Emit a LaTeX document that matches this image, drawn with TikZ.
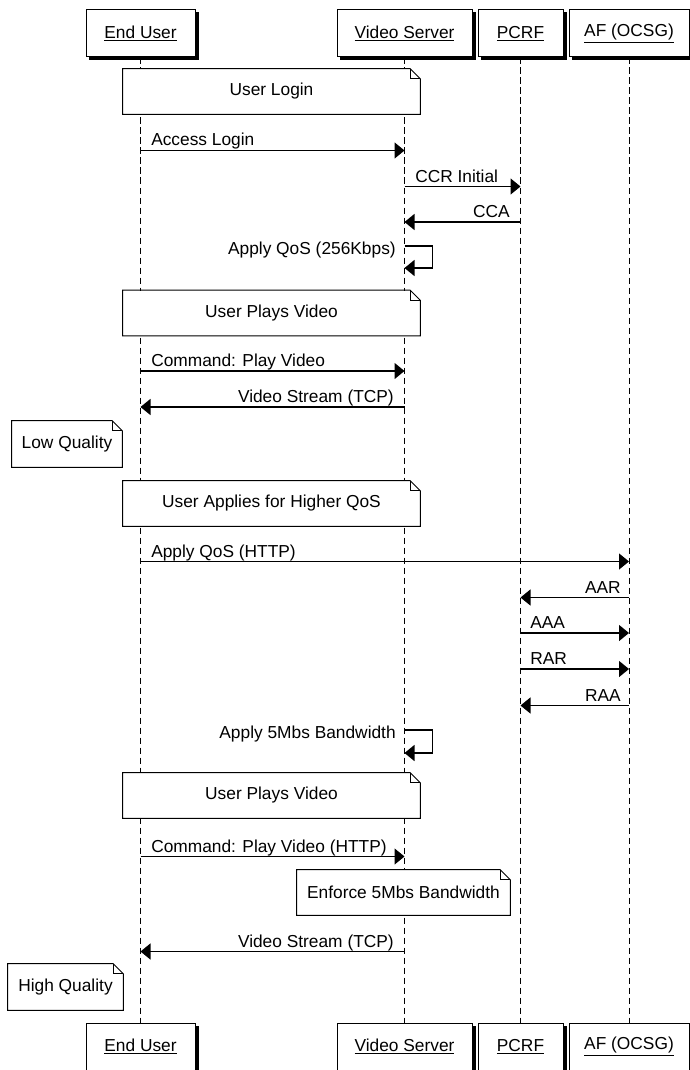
\documentclass[tikz,border=0pt]{standalone}
\usepackage{fontspec}
\setmainfont{Liberation Sans}
\usetikzlibrary{arrows.meta,calc}

% black shadow on the right and lower side of a participant box
\newcommand{\boxshadow}[1]{%
  \fill ($(#1.south west)+(3,0)$) rectangle ($(#1.south east)+(3,3)$);
  \fill ($(#1.north east)+(0,3)$) rectangle ($(#1.south east)+(3,3)$);
}
% outline of a note with a folded corner
\newcommand{\notefold}[1]{%
  \draw[line width=0.75pt] (#1.north west) -- ($(#1.north east)+(-10,0)$) -- ($(#1.north east)+(0,10)$)
    -- (#1.south east) -- (#1.south west) -- cycle;
  \draw[line width=0.75pt] ($(#1.north east)+(-10,0)$) -- ($(#1.north east)+(-10,10)$) -- ($(#1.north east)+(0,10)$);
}

\begin{document}
\begin{tikzpicture}[x=0.75pt,y=0.75pt,yscale=-1,xscale=1,
    every node/.style={font=\fontsize{13}{15}\selectfont},
    hdr/.style={draw, fill=white, line width=0.75pt, inner sep=0pt, minimum height=35.25pt},
    notebox/.style={fill=white, inner sep=0pt},
    msg/.style={line width=1pt, -{Triangle[length=7.5pt,width=12pt]}},
    lifeline/.style={line width=0.75pt, dash pattern=on 5pt off 2.5pt},
    lbl/.style={inner sep=0pt}]
  \useasboundingbox (0,0) rectangle (689,1070);

  % Participants (top)
  \node[hdr, minimum width=81.75pt] (eu) at (140.5,33.5) {\underline{End User}};
  \node[hdr, minimum width=101.25pt] (vs) at (404.5,33.5) {\underline{Video Server}};
  \node[hdr, minimum width=63.75pt] (pcrf) at (520.5,33.5) {\underline{PCRF}};
  \node[hdr, minimum width=90pt] (af) at (629,33.5) {\underline{AF (OCSG)}};
  % Participants (bottom)
  \node[hdr, minimum width=81.75pt] (eub) at (140.5,1046.5) {\underline{End User}};
  \node[hdr, minimum width=101.25pt] (vsb) at (404.5,1046.5) {\underline{Video Server}};
  \node[hdr, minimum width=63.75pt] (pcrfb) at (520.5,1046.5) {\underline{PCRF}};
  \node[hdr, minimum width=90pt] (afb) at (629,1046.5) {\underline{AF (OCSG)}};
  \foreach \b in {eu,vs,pcrf,af,eub,vsb,pcrfb,afb} {\boxshadow{\b}}

  % Lifelines
  \foreach \p in {eu,vs,pcrf,af} {\draw[lifeline] (\p.south) -- (\p b.north);}

  % Note: User Login
  \node[notebox, minimum width=222.75pt, minimum height=33.75pt] (nLogin) at (271.5,91.5) {User Login};
  \notefold{nLogin}

  % Access Login
  \draw[msg] (eu |- 0,150.5) -- (vs |- 0,150.5);
  \node[lbl, anchor=base west] (tAccess) at (151,146) {Access Login};
  % CCR Initial
  \draw[msg] (vs |- 0,186.5) -- (pcrf |- 0,186.5);
  \node[lbl, anchor=base west] (tCCR) at (415,182) {CCR Initial};
  % CCA
  \draw[msg] (pcrf |- 0,222) -- (vs |- 0,222);
  \node[lbl, anchor=base east] (tCCA) at (510,217.5) {CCA};
  % Apply QoS (self)
  \draw[msg] (vs |- 0,246) -- ++(28,0) -- ++(0,22) -- (vs |- 0,268);
  \node[lbl, anchor=base east] (tQoS) at (396,254) {Apply QoS (256Kbps)};

  % Note: User Plays Video
  \node[notebox, minimum width=222.75pt, minimum height=33.75pt] (nPlay) at (271.5,313) {User Plays Video};
  \notefold{nPlay}

  % Command: Play Video
  \draw[msg] (eu |- 0,371) -- (vs |- 0,371);
  \node[lbl, anchor=base west] (tCmd) at (151,366.5) {Command: Play Video};
  % Video Stream (TCP)
  \draw[msg] (vs |- 0,407) -- (eu |- 0,407);
  \node[lbl, anchor=base east] (tStream) at (394,402.5) {Video Stream (TCP)};

  % Note: Low Quality
  \node[notebox, minimum width=82.5pt, minimum height=34.5pt] (nLow) at (67,444) {Low Quality};
  \notefold{nLow}

  % Note: User Applies for Higher QoS
  \node[notebox, minimum width=222.75pt, minimum height=33.75pt] (nApply) at (271.5,503.5) {User Applies for Higher QoS};
  \notefold{nApply}

  % Apply QoS (HTTP)
  \draw[msg] (eu |- 0,561.5) -- (af |- 0,561.5);
  \node[lbl, anchor=base west] (tHttp) at (151,557) {Apply QoS (HTTP)};
  % AAR
  \draw[msg] (af |- 0,597.5) -- (pcrf |- 0,597.5);
  \node[lbl, anchor=base east] (tAAR) at (621,593) {AAR};
  % AAA
  \draw[msg] (pcrf |- 0,633) -- (af |- 0,633);
  \node[lbl, anchor=base west] (tAAA) at (530,628.5) {AAA};
  % RAR
  \draw[msg] (pcrf |- 0,669) -- (af |- 0,669);
  \node[lbl, anchor=base west] (tRAR) at (530,664.5) {RAR};
  % RAA
  \draw[msg] (af |- 0,705.5) -- (pcrf |- 0,705.5);
  \node[lbl, anchor=base east] (tRAA) at (621,701) {RAA};
  % Apply 5Mbs Bandwidth (self)
  \draw[msg] (vs |- 0,730) -- ++(28,0) -- ++(0,23) -- (vs |- 0,753);
  \node[lbl, anchor=base east] (tBand) at (396,738) {Apply 5Mbs Bandwidth};

  % Note: User Plays Video
  \node[notebox, minimum width=222.75pt, minimum height=33.75pt] (nPlayB) at (271.5,795.5) {User Plays Video};
  \notefold{nPlayB}

  % Command: Play Video (HTTP)
  \draw[msg] (eu |- 0,856.5) -- (vs |- 0,856.5);
  \node[lbl, anchor=base west] (tCmdB) at (151,852) {Command: Play Video (HTTP)};

  % Note: Enforce 5Mbs Bandwidth
  \node[notebox, minimum width=159.75pt, minimum height=33.75pt] (nEnforce) at (403.5,892.5) {Enforce 5Mbs Bandwidth};
  \notefold{nEnforce}

  % Video Stream (TCP)
  \draw[msg] (vs |- 0,951.5) -- (eu |- 0,951.5);
  \node[lbl, anchor=base east] (tStreamB) at (394,947) {Video Stream (TCP)};

  % Note: High Quality
  \node[notebox, minimum width=86.25pt, minimum height=34.5pt] (nHigh) at (65.5,987) {High Quality};
  \notefold{nHigh}
\end{tikzpicture}
\end{document}
